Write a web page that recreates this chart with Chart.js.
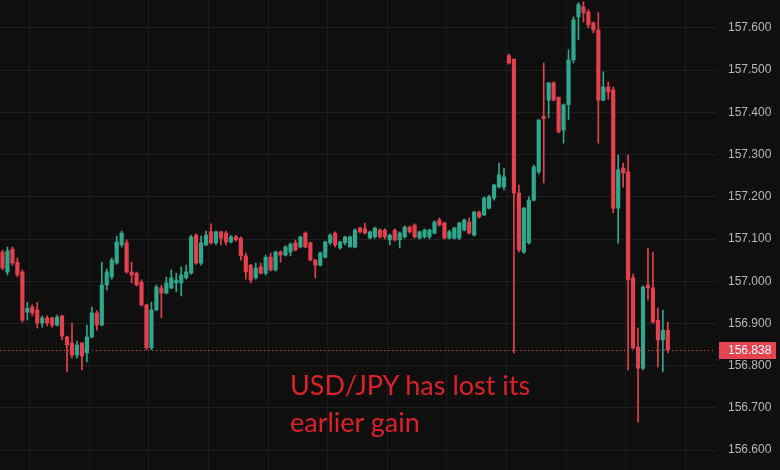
<!DOCTYPE html>
<html>
<head>
<meta charset="utf-8">
<script src="https://cdn.jsdelivr.net/npm/chart.js@4.4.1/dist/chart.umd.min.js"></script>
<style>
  html, body { margin: 0; padding: 0; background: #0f0f0f; }
  #wrap { position: relative; width: 780px; height: 470px; overflow: hidden; background: #0f0f0f; }
  #note { position: absolute; left: 290px; top: 366px; font-family: Lato, "Open Sans", sans-serif; font-size: 27px; line-height: 37px; color: #dc2128; white-space: nowrap; }
</style>
</head>
<body>
<div id="wrap">
  <canvas id="c" width="780" height="470"></canvas>
  <div id="note">USD/JPY has lost its<br>earlier gain</div>
</div>
<script>
const open = [157.069,157.022,157.076,157.045,157.022,156.927,156.939,156.932,156.901,156.913,156.913,156.896,156.918,156.868,156.854,156.825,156.854,156.830,156.868,156.925,
156.896,156.991,157.010,157.043,157.086,157.091,157.022,157.019,156.998,156.944,156.842,156.932,156.984,156.972,156.984,156.996,156.996,157.008,157.019,157.109,
157.043,157.086,157.117,157.091,157.117,157.114,157.093,157.105,157.102,157.060,157.038,157.008,157.034,157.019,157.057,157.027,157.069,157.062,157.069,157.091,
157.081,157.114,157.091,157.050,157.038,157.057,157.091,157.114,157.079,157.091,157.081,157.081,157.126,157.124,157.102,157.105,157.121,157.121,157.098,157.121,
157.098,157.105,157.128,157.133,157.102,157.105,157.105,157.114,157.145,157.138,157.102,157.102,157.102,157.121,157.140,157.109,157.164,157.157,157.173,157.197,
157.223,157.223,157.534,157.526,157.209,157.069,157.091,157.192,157.259,157.390,157.429,157.470,157.436,157.358,157.418,157.524,157.626,157.650,157.638,157.612,
157.595,157.429,157.460,157.453,157.173,157.268,157.259,157.008,156.844,156.794,156.991,156.984,156.908,156.861,156.884];
const high = [157.074,157.081,157.081,157.055,157.027,156.950,156.944,156.950,156.918,156.918,156.915,156.920,156.920,156.870,156.901,156.858,156.854,156.896,156.939,156.930,
157.045,157.029,157.055,157.107,157.119,157.098,157.045,157.022,157.003,156.946,156.951,156.991,156.991,157.010,157.027,157.019,157.034,157.038,157.109,157.112,
157.107,157.119,157.136,157.119,157.119,157.119,157.109,157.109,157.105,157.067,157.040,157.043,157.043,157.062,157.067,157.072,157.072,157.084,157.091,157.098,
157.107,157.117,157.093,157.052,157.069,157.095,157.112,157.117,157.095,157.107,157.107,157.124,157.128,157.138,157.119,157.128,157.124,157.124,157.112,157.124,
157.117,157.131,157.131,157.136,157.119,157.124,157.124,157.143,157.150,157.140,157.121,157.128,157.140,157.147,157.150,157.166,157.166,157.200,157.204,157.230,
157.280,157.268,157.538,157.526,157.228,157.175,157.200,157.275,157.382,157.517,157.470,157.472,157.436,157.420,157.548,157.626,157.660,157.662,157.643,157.614,
157.636,157.496,157.472,157.460,157.299,157.280,157.299,157.017,156.889,156.989,157.078,157.069,156.937,156.932,156.903];
const low = [157.027,157.015,157.038,157.010,156.903,156.908,156.918,156.889,156.891,156.894,156.891,156.894,156.861,156.785,156.818,156.818,156.790,156.809,156.866,156.884,
156.894,156.979,157.005,157.040,157.081,157.019,156.996,156.989,156.941,156.838,156.838,156.930,156.913,156.970,156.982,156.975,156.965,157.005,157.017,157.040,
157.038,157.084,157.088,157.086,157.086,157.086,157.091,157.095,157.050,157.005,156.996,157.005,157.017,157.015,157.024,157.024,157.045,157.060,157.060,157.072,
157.079,157.079,157.048,157.008,157.036,157.055,157.086,157.081,157.076,157.086,157.081,157.079,157.114,157.112,157.100,157.102,157.102,157.100,157.086,157.095,
157.079,157.102,157.114,157.102,157.100,157.102,157.100,157.112,157.131,157.100,157.100,157.100,157.098,157.119,157.112,157.107,157.150,157.155,157.171,157.192,
157.221,157.216,157.514,156.830,157.069,157.066,157.088,157.190,157.254,157.233,157.387,157.427,157.351,157.327,157.382,157.517,157.572,157.614,157.600,157.588,
157.327,157.427,157.431,157.162,157.090,157.223,156.790,156.840,156.666,156.790,156.955,156.901,156.797,156.785,156.830];
const close = [157.031,157.072,157.043,157.015,156.908,156.936,156.925,156.901,156.913,156.901,156.896,156.915,156.870,156.849,156.825,156.849,156.823,156.868,156.925,156.896,
156.991,157.022,157.050,157.093,157.114,157.022,157.015,156.991,156.944,156.842,156.932,156.986,156.972,156.996,157.008,157.003,157.015,157.022,157.105,157.043,
157.091,157.109,157.091,157.117,157.102,157.093,157.105,157.098,157.060,157.022,157.003,157.031,157.019,157.057,157.027,157.069,157.062,157.081,157.088,157.074,
157.105,157.081,157.050,157.038,157.067,157.093,157.109,157.086,157.093,157.105,157.105,157.121,157.117,157.114,157.117,157.126,157.105,157.105,157.109,157.098,
157.114,157.128,157.117,157.105,157.117,157.121,157.121,157.140,157.133,157.102,157.117,157.126,157.138,157.145,157.114,157.164,157.152,157.197,157.200,157.228,
157.252,157.247,157.517,157.209,157.074,157.173,157.192,157.271,157.382,157.385,157.470,157.429,157.354,157.418,157.524,157.619,157.655,157.636,157.607,157.595,
157.429,157.460,157.448,157.173,157.264,157.256,157.003,156.842,156.794,156.986,156.984,156.903,156.861,156.884,156.838];
const priceTicks = [156.6,156.7,156.8,156.9,157.0,157.1,157.2,157.3,157.4,157.5,157.6];
const timeGrid = [5.5,17.5,29.5,41.5,53.5,65.5,77.5,89.5,101.5,113.5,125.5,137.5];
const lastPrice = close[close.length - 1];

const UP = '#2fa98e', DOWN = '#e5404e';
const colors = open.map((o, i) => close[i] >= o ? UP : DOWN);
const wickData = open.map((o, i) => ({ x: i, y: [low[i], high[i]] }));
const bodyData = open.map((o, i) => ({ x: i, y: [o, close[i]] }));

const priceTag = {
  id: 'priceTag',
  afterDatasetsDraw(chart) {
    const { ctx, chartArea, scales } = chart;
    const y = Math.round(scales.y.getPixelForValue(lastPrice)) + 0.5;
    ctx.save();
    ctx.strokeStyle = DOWN;
    ctx.lineWidth = 1;
    ctx.setLineDash([1, 3]);
    ctx.beginPath();
    ctx.moveTo(chartArea.left, y);
    ctx.lineTo(chartArea.right, y);
    ctx.stroke();
    ctx.setLineDash([]);
    ctx.fillStyle = '#e5434f';
    ctx.fillRect(chartArea.right + 3, y - 8.5, 57, 17);
    ctx.fillStyle = '#ffffff';
    ctx.font = '12px "Liberation Sans", Arial, sans-serif';
    ctx.textAlign = 'left';
    ctx.textBaseline = 'middle';
    ctx.fillText(lastPrice.toFixed(3), chartArea.right + 12, y + 0.5);
    ctx.restore();
  }
};

new Chart(document.getElementById('c'), {
  type: 'bar',
  data: {
    datasets: [
      { label: 'body', data: bodyData, backgroundColor: colors, barThickness: 3.5, minBarLength: 1, grouped: false, order: 0, borderWidth: 0 },
      { label: 'wick', data: wickData, backgroundColor: colors, barThickness: 1, grouped: false, order: 1, borderWidth: 0 }
    ]
  },
  options: {
    responsive: false,
    animation: false,
    events: [],
    layout: { padding: 0 },
    plugins: { legend: { display: false }, tooltip: { enabled: false } },
    scales: {
      x: {
        type: 'linear',
        min: -0.5,
        max: 143.7,
        offset: false,
        grid: { color: '#1c1c1c', offset: false, drawTicks: false },
        border: { display: false },
        ticks: { display: false },
        afterBuildTicks: (s) => { s.ticks = timeGrid.map(v => ({ value: v })); }
      },
      y: {
        position: 'right',
        min: 156.553,
        max: 157.666,
        grid: { color: '#1f1f1f', drawTicks: false },
        border: { display: false },
        ticks: {
          includeBounds: false,
          color: '#b8b8b8',
          padding: 12,
          font: { family: '"Liberation Sans", Arial, sans-serif', size: 12 },
          callback: (v) => Number(v).toFixed(3)
        },
        afterBuildTicks: (s) => { s.ticks = priceTicks.map(v => ({ value: v })); },
        afterFit: (s) => { s.width = 64; s.paddingTop = 0; s.paddingBottom = 0; }
      }
    }
  },
  plugins: [priceTag]
});
</script>
</body>
</html>
